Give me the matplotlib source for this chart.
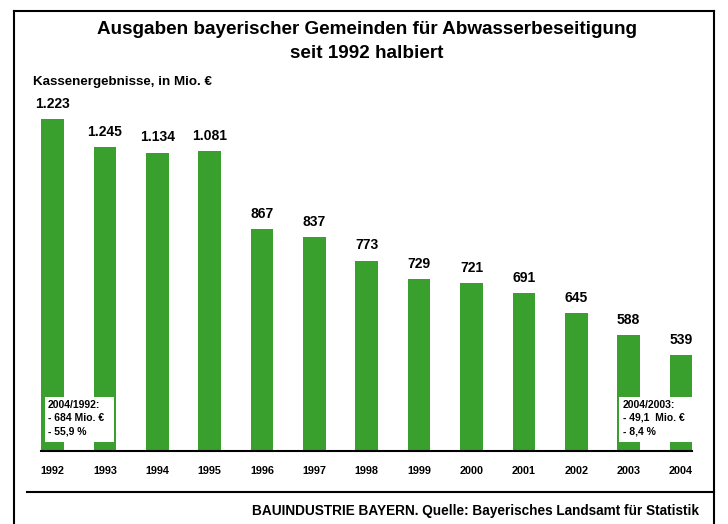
import numpy as np
import matplotlib
matplotlib.use("Agg")
import matplotlib.pyplot as plt
from matplotlib.lines import Line2D
from matplotlib.patches import Rectangle

plt.rcParams['font.family'] = ['Liberation Sans', 'DejaVu Sans']

years = ['1992', '1993', '1994', '1995', '1996', '1997', '1998',
         '1999', '2000', '2001', '2002', '2003', '2004']
# bar heights as drawn in the picture (Mio. EUR)
bar_heights = [1223, 1142, 1125, 1130, 904, 881, 812, 759, 748, 719, 661, 597, 539]
# value labels as printed above the bars
value_labels = ['1.223', '1.245', '1.134', '1.081', '867', '837', '773',
                '729', '721', '691', '645', '588', '539']
box_left = ['2004/1992:', '- 684 Mio. €', '- 55,9 %']
box_right = ['2004/2003:', '- 49,1  Mio. €', '- 8,4 %']

green = '#3aa02d'
W, H = 728, 524
fig = plt.figure(figsize=(W / 100, H / 100), dpi=100)

def fx(px):
    return px / W

def fy(py):
    return 1 - py / H

# axes: baseline at y=451px, x from 41 to 692 px
ax = fig.add_axes([fx(41), fy(451), fx(692) - fx(41), fy(101) - fy(451)])
x = np.arange(len(years))
ax.bar(x, bar_heights, width=0.43, color=green, zorder=2)
ax.set_xlim(-0.2195, 12.21)
ax.set_ylim(261, 1275)

for xi, h, lab in zip(x, bar_heights, value_labels):
    ax.annotate(lab, (xi, h), xytext=(0, 6), textcoords='offset points',
                ha='center', va='bottom', fontsize=10, fontweight='bold')

for s in ['top', 'right', 'left']:
    ax.spines[s].set_visible(False)
ax.spines['bottom'].set_linewidth(1.5)
ax.set_yticks([])
ax.set_xticks(x)
ax.set_xticklabels(years, fontsize=7.8, fontweight='bold')
ax.tick_params(axis='x', length=0, pad=11)

# white annotation boxes
fig.patches.append(Rectangle((fx(45), fy(442)), fx(114) - fx(45), fy(397) - fy(442),
                             transform=fig.transFigure, facecolor='white',
                             edgecolor='none', zorder=5))
fig.patches.append(Rectangle((fx(619), fy(442)), fx(694) - fx(619), fy(397) - fy(442),
                             transform=fig.transFigure, facecolor='white',
                             edgecolor='none', zorder=5))
for i, t in enumerate(box_left):
    fig.text(fx(48), fy(405 + i * 13), t, fontsize=7.5, fontweight='bold',
             va='center', ha='left', zorder=6)
for i, t in enumerate(box_right):
    fig.text(fx(623), fy(405 + i * 13), t, fontsize=7.5, fontweight='bold',
             va='center', ha='left', zorder=6)

# titles
fig.text(fx(367), fy(29), 'Ausgaben bayerischer Gemeinden für Abwasserbeseitigung',
         ha='center', va='center', fontsize=13.6, fontweight='bold')
fig.text(fx(367), fy(53), 'seit 1992 halbiert', ha='center', va='center',
         fontsize=13.6, fontweight='bold')
fig.text(fx(33), fy(82), 'Kassenergebnisse, in Mio. €', ha='left', va='center',
         fontsize=9.6, fontweight='bold')
fig.text(fx(699), fy(511), 'BAUINDUSTRIE BAYERN. Quelle: Bayerisches Landsamt für Statistik',
         ha='right', va='center', fontsize=9.8, fontweight='bold')

# frame lines
frame = [((14, 14), (11, 524)), ((14, 714), (11, 11)), ((714, 714), (11, 524)),
         ((27, 714), (492, 492))]
for xs, ys in frame:
    fig.add_artist(Line2D([fx(v) for v in xs], [fy(v) for v in ys], color='black',
                          linewidth=1.5, transform=fig.transFigure))

fig.savefig('out.png', dpi=100)
